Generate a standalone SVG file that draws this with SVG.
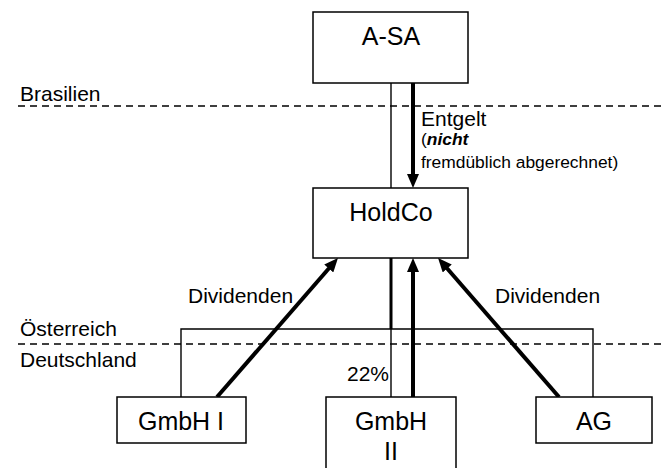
<svg xmlns="http://www.w3.org/2000/svg" width="661" height="468" viewBox="0 0 661 468">
<defs>
<marker id="ah" markerUnits="userSpaceOnUse" markerWidth="15" markerHeight="12" refX="4" refY="6" orient="auto">
<path d="M0,0 L14,6 L0,12 z" fill="#000"/>
</marker>
<style>
.box{fill:#fff;stroke:#000;stroke-width:1.5}
.lbl{font-family:"Liberation Sans",Arial,sans-serif;font-size:25px;fill:#000;text-anchor:middle}
.t{font-family:"Liberation Sans",Arial,sans-serif;font-size:21px;fill:#000}
.s{font-family:"Liberation Sans",Arial,sans-serif;font-size:17.4px;fill:#000}
.thin{stroke:#000;stroke-width:1.4;fill:none}
.thick{stroke:#000;stroke-width:4;fill:none}
.dash{stroke:#000;stroke-width:1.4;stroke-dasharray:7 5;fill:none}
</style>
</defs>
<rect width="661" height="468" fill="#fff"/>
<g id="borders">
<line class="dash" x1="18" y1="106" x2="661" y2="106"/>
<line class="dash" x1="18" y1="344" x2="661" y2="344"/>
<text class="t" x="20" y="101">Brasilien</text>
<text class="t" x="20" y="336">Österreich</text>
<text class="t" x="20" y="367">Deutschland</text>
</g>
<g id="connectors">
<line class="thin" x1="391" y1="83" x2="391" y2="188"/>
<line class="thick" x1="413" y1="83" x2="413" y2="178" marker-end="url(#ah)"/>
<line class="thin" x1="391" y1="258" x2="391" y2="397"/>
<line x1="391" y1="258" x2="391" y2="329" stroke="#000" stroke-width="3"/>
<polyline class="thin" points="181,397 181,329 593,329 593,397"/>
<line class="thick" x1="413" y1="397" x2="413" y2="268" marker-end="url(#ah)"/>
<line class="thick" x1="217" y1="397" x2="331.4" y2="265.5" marker-end="url(#ah)"/>
<line class="thick" x1="559" y1="397" x2="444.6" y2="265.5" marker-end="url(#ah)"/>
<text class="t" x="421" y="126">Entgelt</text>
<text class="s" x="421" y="145">(<tspan font-weight="bold" font-style="italic">nicht</tspan></text>
<text class="s" x="421" y="168">fremdüblich abgerechnet)</text>
<text class="t" x="188" y="303">Dividenden</text>
<text class="t" x="495" y="303">Dividenden</text>
<text class="t" x="347" y="381">22%</text>
</g>
<g id="asa">
<rect class="box" x="313" y="12" width="155" height="71"/>
<text class="lbl" x="391" y="45">A-SA</text>
</g>
<g id="holdco">
<rect class="box" x="313" y="188" width="155" height="70"/>
<text class="lbl" x="391" y="221">HoldCo</text>
</g>
<g id="gmbh1">
<rect class="box" x="117" y="397" width="129" height="46"/>
<text class="lbl" x="181" y="430">GmbH I</text>
</g>
<g id="gmbh2">
<rect class="box" x="326" y="397" width="130" height="80"/>
<text class="lbl" x="391" y="430">GmbH</text>
<text class="lbl" x="391" y="460">II</text>
</g>
<g id="ag">
<rect class="box" x="536" y="397" width="116" height="46"/>
<text class="lbl" x="594" y="430">AG</text>
</g>
</svg>
